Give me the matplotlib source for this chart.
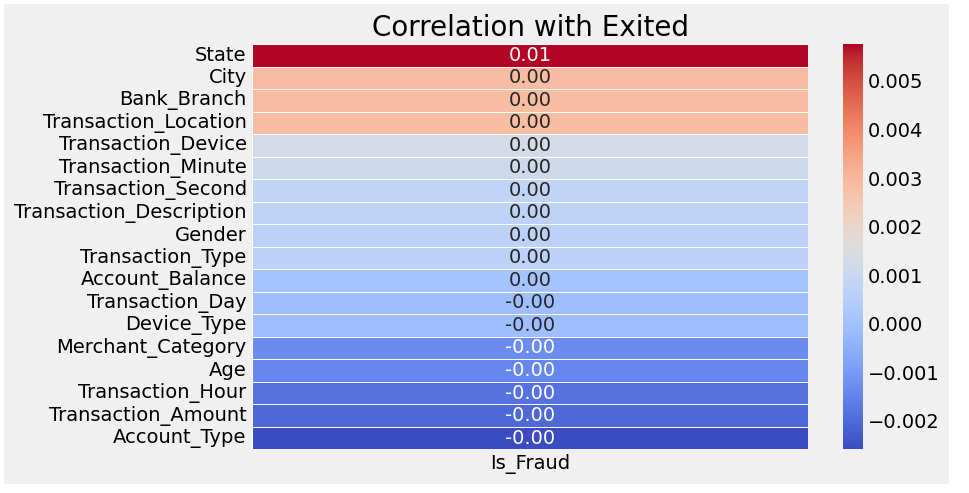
import numpy as np
import matplotlib
matplotlib.use("Agg")
import matplotlib.pyplot as plt
from matplotlib.patches import Rectangle
import seaborn as sns

features = ["State","City","Bank_Branch","Transaction_Location","Transaction_Device",
            "Transaction_Minute","Transaction_Second","Transaction_Description","Gender",
            "Transaction_Type","Account_Balance","Transaction_Day","Device_Type",
            "Merchant_Category","Age","Transaction_Hour","Transaction_Amount","Account_Type"]
corr = [0.00576,0.00287,0.00285,0.00283,0.00130,0.00109,0.00076,0.00071,0.00064,
        0.00063,0.00008,-0.00008,-0.00010,-0.00133,-0.00141,-0.00185,-0.00205,-0.00258]
column = ["Is_Fraud"]

plt.style.use("fivethirtyeight")
fig = plt.figure(figsize=(9.7,4.93), dpi=100, facecolor="white")
W, H = 970, 493
fig.patches.append(Rectangle((4/W, 1-484/H), 945/W, 480/H, transform=fig.transFigure,
                             facecolor="#f0f0f0", edgecolor="none", zorder=-10))
ax = fig.add_axes([251.5/W, 1-449.3/H, 557/W, 405.3/H], facecolor="#f0f0f0")
cax = fig.add_axes([843/W, 1-449/H, 20/W, 405/H])
sns.heatmap(np.array(corr).reshape(-1,1), annot=True, fmt=".2f", cmap="coolwarm",
            linewidths=0.5, linecolor="white", yticklabels=features, xticklabels=column,
            ax=ax, cbar_ax=cax, annot_kws={"size":14})
ax.set_title("Correlation with Exited", fontsize=20, pad=6)
ax.tick_params(axis="both", labelsize=14, length=0)
ax.tick_params(axis="y", rotation=0)
cax.tick_params(labelsize=14, length=0)
ax.grid(False); cax.grid(False)
for s in cax.spines.values():
    s.set_visible(False)
fig.savefig("out.png", dpi=100, facecolor="white")
